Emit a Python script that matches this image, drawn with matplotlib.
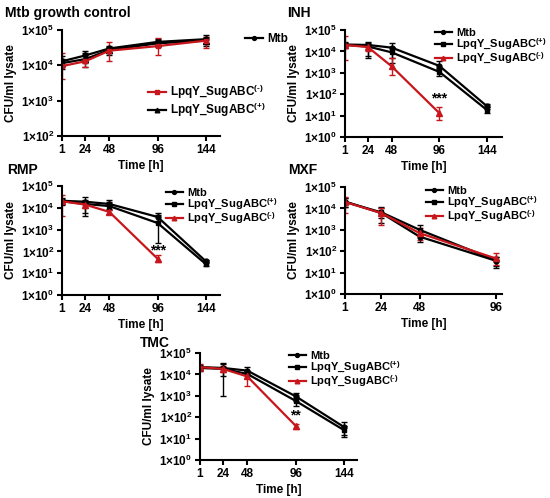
import matplotlib
matplotlib.use("Agg")
import matplotlib.pyplot as plt
import numpy as np
from matplotlib.lines import Line2D
from matplotlib.ticker import FixedLocator, FuncFormatter, NullLocator

plt.rcParams['font.family'] = ['Liberation Sans', 'DejaVu Sans']
plt.rcParams['font.weight'] = 'bold'
plt.rcParams['mathtext.fontset'] = 'custom'
plt.rcParams['mathtext.rm'] = 'Liberation Sans:bold'
plt.rcParams['mathtext.it'] = 'Liberation Sans:bold'
plt.rcParams['mathtext.bf'] = 'Liberation Sans:bold'
plt.rcParams['mathtext.default'] = 'rm'

hours = [1, 24, 48, 96, 144]
hours_mxf = [1, 24, 48, 96]
hours_neg = [1, 24, 48, 96]

# growth control
gc_mtb = [1.3e4, 1.9e4, 3.0e4, 4.6e4, 5.5e4]
gc_mtb_lo = [9e3, 1.2e4, 2.2e4, 3.5e4, 4.0e4]
gc_mtb_hi = [1.8e4, 2.6e4, 3.6e4, 5.5e4, 7.0e4]
gc_pos = [1.15e4, 1.5e4, 2.7e4, 4.2e4, 5.0e4]
gc_pos_lo = [8e3, 9e3, 2.0e4, 3.2e4, 3.5e4]
gc_pos_hi = [1.5e4, 2.2e4, 3.3e4, 5.2e4, 6.5e4]
gc_neg = [9.5e3, 1.3e4, 2.6e4, 3.5e4, 5.0e4]
gc_neg_lo = [4e3, 9e3, 1.3e4, 2.0e4, 3.0e4]
gc_neg_hi = [2.3e4, 2.0e4, 4.6e4, 6.0e4, 6.5e4]

# INH
inh_mtb = [2.1e4, 2.0e4, 1.5e4, 2.1e3, 2.7e1]
inh_mtb_lo = [1.5e4, 6e3, 5e3, 1.5e3, 2.0e1]
inh_mtb_hi = [2.8e4, 2.8e4, 2.5e4, 3.5e3, 3.5e1]
inh_pos = [2.0e4, 1.7e4, 9e3, 1.1e3, 1.8e1]
inh_pos_lo = [1.4e4, 5e3, 3e3, 7e2, 1.3e1]
inh_pos_hi = [2.6e4, 2.4e4, 1.6e4, 1.6e3, 2.4e1]
inh_neg = [2.0e4, 1.6e4, 2.0e3, 1.3e1]
inh_neg_lo = [4e3, 1.1e4, 8e2, 6e0]
inh_neg_hi = [5e4, 2.0e4, 5e3, 2.5e1]

# RMP
rmp_mtb = [2.1e4, 1.9e4, 1.5e4, 3.8e3, 3.5e1]
rmp_mtb_lo = [1.5e4, 6e3, 9e3, 2.5e3, 2.8e1]
rmp_mtb_hi = [2.8e4, 3.0e4, 2.2e4, 5.8e3, 4.2e1]
rmp_pos = [2.0e4, 1.5e4, 1.2e4, 2.0e3, 2.6e1]
rmp_pos_lo = [1.4e4, 4e3, 8e3, 2.5e2, 2.2e1]
rmp_pos_hi = [2.6e4, 2.4e4, 1.8e4, 4.5e3, 3.2e1]
rmp_neg = [2.0e4, 1.4e4, 6.5e3, 4.6e1]
rmp_neg_lo = [4e3, 1.0e4, 5e3, 3.2e1]
rmp_neg_hi = [4e4, 1.8e4, 8e3, 6.5e1]

# MXF
mxf_mtb = [2.1e4, 6.0e3, 4.8e2, 3.6e1]
mxf_mtb_lo = [1.2e4, 2.0e3, 2.6e2, 1.6e1]
mxf_mtb_hi = [3.0e4, 1.1e4, 8e2, 5.5e1]
mxf_pos = [2.0e4, 6.5e3, 1.0e3, 3.8e1]
mxf_pos_lo = [1.2e4, 3.5e3, 6e2, 2.0e1]
mxf_pos_hi = [3.0e4, 1.2e4, 1.6e3, 5.5e1]
mxf_neg = [2.0e4, 6.0e3, 7.0e2, 4.6e1]
mxf_neg_lo = [6e3, 1.7e3, 3.5e2, 2.2e1]
mxf_neg_hi = [3.5e4, 1.0e4, 1.2e3, 8e1]

# TMC
tmc_mtb = [2.2e4, 2.0e4, 1.5e4, 9.5e2, 3.5e1]
tmc_mtb_lo = [1.6e4, 1.0e3, 1.0e4, 6e2, 1.2e1]
tmc_mtb_hi = [2.8e4, 3.5e4, 2.2e4, 1.3e3, 6.0e1]
tmc_pos = [2.0e4, 1.8e4, 1.05e4, 5.8e2, 2.5e1]
tmc_pos_lo = [1.4e4, 8e3, 7e3, 3.5e2, 1.5e1]
tmc_pos_hi = [2.6e4, 3.0e4, 1.5e4, 8e2, 4.0e1]
tmc_neg = [2.2e4, 1.8e4, 8.0e3, 4.0e1]
tmc_neg_lo = [1.5e4, 1.3e4, 2.8e3, 2.9e1]
tmc_neg_hi = [3.0e4, 2.4e4, 1.2e4, 5.0e1]

lbl_mtb = 'Mtb'
lbl_pos = r'LpqY_SugABC$^{(+)}$'
lbl_neg = r'LpqY_SugABC$^{(\text{-})}$'

RED = '#c8161d'
W, H = 550, 498

fig = plt.figure(figsize=(5.5, 4.98), dpi=100)


def px_axes(left, top, right, bottom):
    return fig.add_axes([left / W, 1 - bottom / H, (right - left) / W, (bottom - top) / H])


def draw(ax, x, y, lo, hi, color, marker, ms, label):
    y = np.array(y)
    yerr = [y - np.array(lo), np.array(hi) - y]
    ax.errorbar(x[:len(y)], y, yerr=yerr, color=color, marker=marker, ms=ms,
                lw=1.6, elinewidth=1.0, capsize=2.5, capthick=1.0)
    return Line2D([], [], color=color, marker=marker, ms=ms - 0.7, lw=1.6, label=label)


def style(ax, xticks, xmax, ymin):
    ax.set_yscale('log')
    ax.set_ylim(10.0 ** ymin, 1e5)
    ax.set_xlim(1, xmax)
    ax.xaxis.set_major_locator(FixedLocator(xticks))
    ax.yaxis.set_major_locator(FixedLocator([10.0 ** e for e in range(ymin, 6)]))
    ax.yaxis.set_minor_locator(NullLocator())
    ax.yaxis.set_major_formatter(FuncFormatter(lambda v, p: r'1×10$^{%d}$' % round(np.log10(v))))
    for s in ['top', 'right']:
        ax.spines[s].set_visible(False)
    for s in ['left', 'bottom']:
        ax.spines[s].set_linewidth(1.5)
    ax.tick_params(width=1.5, length=3.5, labelsize=8.5, pad=2)
    ax.set_ylabel('CFU/ml lysate', fontsize=8.5, fontweight='bold', labelpad=3)
    ax.set_xlabel('Time [h]', fontsize=8.5, fontweight='bold', labelpad=3)
    for t in ax.get_xticklabels() + ax.get_yticklabels():
        t.set_fontweight('bold')


def legend(ax, handles, x, y, size=8.0, spacing=-0.08):
    leg = ax.legend(handles=handles, loc='upper left', bbox_to_anchor=(x / W, 1 - y / H),
                    bbox_transform=fig.transFigure, frameon=False,
                    borderaxespad=0, borderpad=0, handlelength=1.5, handletextpad=0.4,
                    labelspacing=spacing, prop={'weight': 'bold', 'size': size})
    return leg


# panel 1: growth control
ax1 = px_axes(62, 30, 220, 136)
h1 = draw(ax1, hours, gc_mtb, gc_mtb_lo, gc_mtb_hi, 'black', 'o', 3.5, lbl_mtb)
h2 = draw(ax1, hours, gc_pos, gc_pos_lo, gc_pos_hi, 'black', '^', 4, lbl_pos)
h3 = draw(ax1, hours, gc_neg, gc_neg_lo, gc_neg_hi, RED, 's', 3.5, lbl_neg)
style(ax1, hours, 158, 2)
l1 = legend(ax1, [h1], 245, 33, size=8.5)
ax1.add_artist(l1)
legend(ax1, [h3, h2], 148, 83, size=8.5, spacing=0.0)
fig.text(5, H - 13, 'Mtb growth control', transform=None, fontsize=10, fontweight='bold', va='center')

# panel 2: INH
ax2 = px_axes(345, 30, 502, 137)
h1 = draw(ax2, hours, inh_mtb, inh_mtb_lo, inh_mtb_hi, 'black', 'o', 3.5, lbl_mtb)
h2 = draw(ax2, hours, inh_pos, inh_pos_lo, inh_pos_hi, 'black', 's', 3.5, lbl_pos)
h3 = draw(ax2, hours_neg, inh_neg, inh_neg_lo, inh_neg_hi, RED, '^', 4, lbl_neg)
style(ax2, hours, 159, 0)
legend(ax2, [h1, h2, h3], 435, 28)
ax2.text(96, 60, '***', ha='center', va='center', fontsize=10, fontweight='bold')

# panel 3: RMP
ax3 = px_axes(62, 186, 220, 295)
h1 = draw(ax3, hours, rmp_mtb, rmp_mtb_lo, rmp_mtb_hi, 'black', 'o', 3.5, lbl_mtb)
h2 = draw(ax3, hours, rmp_pos, rmp_pos_lo, rmp_pos_hi, 'black', 's', 3.5, lbl_pos)
h3 = draw(ax3, hours_neg, rmp_neg, rmp_neg_lo, rmp_neg_hi, RED, '^', 4, lbl_neg)
style(ax3, hours, 158, 0)
legend(ax3, [h1, h2, h3], 166, 188)
ax3.text(96, 115, '***', ha='center', va='center', fontsize=10, fontweight='bold')

# panel 4: MXF
ax4 = px_axes(345, 187, 502, 294)
h1 = draw(ax4, hours_mxf, mxf_mtb, mxf_mtb_lo, mxf_mtb_hi, 'black', 'o', 3.5, lbl_mtb)
h2 = draw(ax4, hours_mxf, mxf_pos, mxf_pos_lo, mxf_pos_hi, 'black', 's', 3.5, lbl_pos)
h3 = draw(ax4, hours_mxf, mxf_neg, mxf_neg_lo, mxf_neg_hi, RED, '^', 4, lbl_neg)
style(ax4, hours_mxf, 100, 0)
legend(ax4, [h1, h2, h3], 426, 186)

# panel 5: TMC
ax5 = px_axes(200, 353, 357, 460)
h1 = draw(ax5, hours, tmc_mtb, tmc_mtb_lo, tmc_mtb_hi, 'black', 'o', 3.5, lbl_mtb)
h2 = draw(ax5, hours, tmc_pos, tmc_pos_lo, tmc_pos_hi, 'black', 's', 3.5, lbl_pos)
h3 = draw(ax5, hours_neg, tmc_neg, tmc_neg_lo, tmc_neg_hi, RED, '^', 4, lbl_neg)
style(ax5, hours, 157, 0)
legend(ax5, [h1, h2, h3], 289, 351)
ax5.text(96, 120, '**', ha='center', va='center', fontsize=10, fontweight='bold')

fig.text(7, H - 170, 'RMP', transform=None, fontsize=10, fontweight='bold', va='center')
fig.text(288, H - 170, 'MXF', transform=None, fontsize=10, fontweight='bold', va='center')
fig.text(287, H - 13, 'INH', transform=None, fontsize=10, fontweight='bold', va='center')
fig.text(140, H - 343, 'TMC', transform=None, fontsize=10, fontweight='bold', va='center')

fig.savefig('out.png', dpi=100)
